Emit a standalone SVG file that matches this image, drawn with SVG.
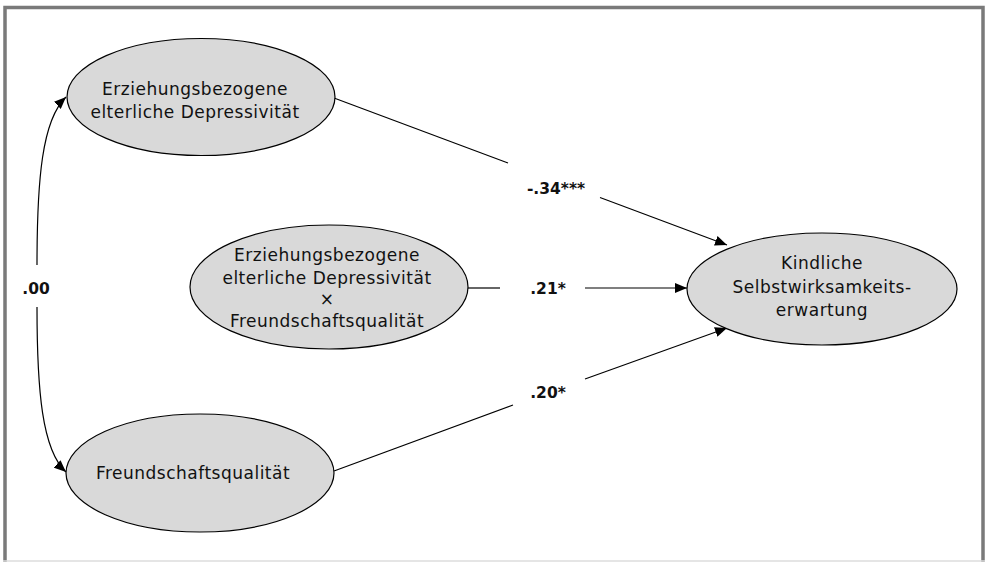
<svg xmlns="http://www.w3.org/2000/svg" width="985" height="562" viewBox="0 0 985 562">
<defs>
<marker id="arr" viewBox="0 0 12 10" refX="12" refY="5" markerWidth="12" markerHeight="10" markerUnits="userSpaceOnUse" orient="auto">
<path d="M0,0 L12,5 L0,10 Z" fill="#000"/>
</marker>
</defs>
<style>
.node{fill:#d9d9d9;stroke:#000;stroke-width:1.2}
.t{font-family:"DejaVu Sans","Noto Sans",sans-serif;font-size:17px;letter-spacing:0.5px;fill:#111;text-anchor:middle}
.lab{font-family:"DejaVu Sans","Noto Sans",sans-serif;font-size:15.5px;font-weight:bold;fill:#111;text-anchor:middle}
.c{fill:none;stroke:#000;stroke-width:1.2}
</style>
<rect x="0" y="0" width="985" height="562" fill="#fff"/>
<rect x="5" y="7.5" width="978" height="560" fill="none" stroke="#7a7a7a" stroke-width="3.5"/>
<line x1="3" y1="561" x2="985" y2="561" stroke="#ddd" stroke-width="1.5"/>

<g id="connectors">
<path class="c" d="M37,265 C37,180 42,120 66,97" marker-end="url(#arr)"/>
<path class="c" d="M37,307 C37,390 42,450 66,472" marker-end="url(#arr)"/>
<line class="c" x1="334" y1="98" x2="508" y2="163"/>
<line class="c" x1="600" y1="197.5" x2="727" y2="245" marker-end="url(#arr)"/>
<line class="c" x1="468" y1="288" x2="500" y2="288"/>
<line class="c" x1="585" y1="288" x2="687" y2="288" marker-end="url(#arr)"/>
<line class="c" x1="334" y1="471" x2="513" y2="405"/>
<line class="c" x1="585" y1="379" x2="727" y2="328" marker-end="url(#arr)"/>
<text class="lab" x="36" y="294">.00</text>
<text class="lab" x="556" y="194">-.34***</text>
<text class="lab" x="548" y="294">.21*</text>
<text class="lab" x="548" y="398">.20*</text>
</g>

<g id="node-depr">
<ellipse class="node" cx="201" cy="97" rx="134" ry="58.5"/>
<text class="t" x="195" y="95">Erziehungsbezogene</text>
<text class="t" x="195" y="118">elterliche Depressivität</text>
</g>

<g id="node-inter">
<ellipse class="node" cx="329" cy="287" rx="139" ry="62"/>
<text class="t" x="327" y="261">Erziehungsbezogene</text>
<text class="t" x="327" y="284">elterliche Depressivität</text>
<text class="t" x="327" y="305">×</text>
<text class="t" x="327" y="327">Freundschaftsqualität</text>
</g>

<g id="node-freund">
<ellipse class="node" cx="200" cy="473" rx="134" ry="59"/>
<text class="t" x="193" y="479">Freundschaftsqualität</text>
</g>

<g id="node-selbst">
<ellipse class="node" cx="822" cy="289" rx="135" ry="56"/>
<text class="t" x="822" y="269">Kindliche</text>
<text class="t" x="822" y="293">Selbstwirksamkeits-</text>
<text class="t" x="822" y="316">erwartung</text>
</g>
</svg>
